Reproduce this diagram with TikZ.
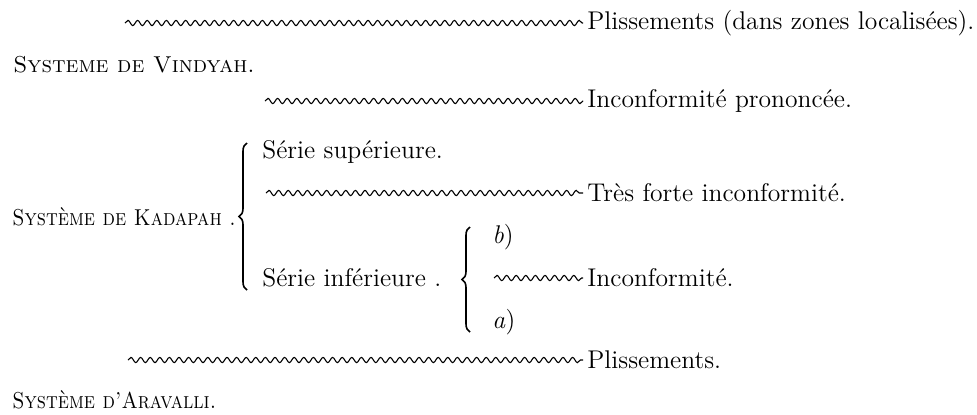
\documentclass[tikz,border=0pt]{standalone}
\usepackage{fontspec}
\usepackage{tikz}
\usetikzlibrary{decorations.pathmorphing,decorations.pathreplacing}

\newcommand{\narrowsc}[1]{\scalebox{0.87}[1]{#1}}

\begin{document}
\begin{tikzpicture}[
    x=0.5pt, y=-0.5pt,
    txt/.style={anchor=west, inner sep=2pt, font=\fontsize{12.8}{15}\selectfont},
    sys/.style={anchor=west, inner sep=2pt, font=\fontsize{11.5}{14}\selectfont\scshape},
    wave/.style={decorate, decoration={snake, segment length=4.8pt, amplitude=1.3pt}, line width=0.55pt},
    curly/.style={decorate, decoration={brace, amplitude=4pt}, line width=0.8pt}
]
\useasboundingbox (0,0) rectangle (977,414);

% Systems
\node[sys] (vindyah) at (9,65) {Systeme de Vindyah.};
\node[sys] (kadapah) at (8,217) {\narrowsc{Système de Kadapah .}};
\node[sys] (aravalli) at (8,400) {\narrowsc{Système d'Aravalli.}};

% Kadapah series
\node[txt] (serieSup) at (258,152) {Série supérieure.};
\node[txt] (serieInf) at (258,278) {Série inférieure .};
\node[txt] (bb) at (488,237) {\textit{b})};
\node[txt] (aa) at (488,322) {\textit{a})};

% Remarks
\node[txt] (plisA) at (583,23) {Plissements (dans zones localisées).};
\node[txt] (inconfA) at (583,101) {Inconformité prononcée.};
\node[txt] (forte) at (583,193) {Très forte inconformité.};
\node[txt] (inconfB) at (583,278) {Inconformité.};
\node[txt] (plisB) at (583,360) {Plissements.};

% Wavy lines
\coordinate (w1) at (125,23);
\coordinate (w2) at (265,101);
\coordinate (w3) at (266,193);
\coordinate (w4) at (494,278);
\coordinate (w5) at (128,360);
\draw[wave] (w1) -- (plisA);
\draw[wave] (w2) -- (inconfA);
\draw[wave] (w3) -- (forte);
\draw[wave] (w4) -- (inconfB);
\draw[wave] (w5) -- (plisB);

% Braces
\coordinate (kTop) at (247,143);
\coordinate (kBot) at (247,290);
\coordinate (sTop) at (470,227);
\coordinate (sBot) at (470,332);
\draw[curly] (kBot) -- (kTop);
\draw[curly] (sBot) -- (sTop);

\end{tikzpicture}
\end{document}
